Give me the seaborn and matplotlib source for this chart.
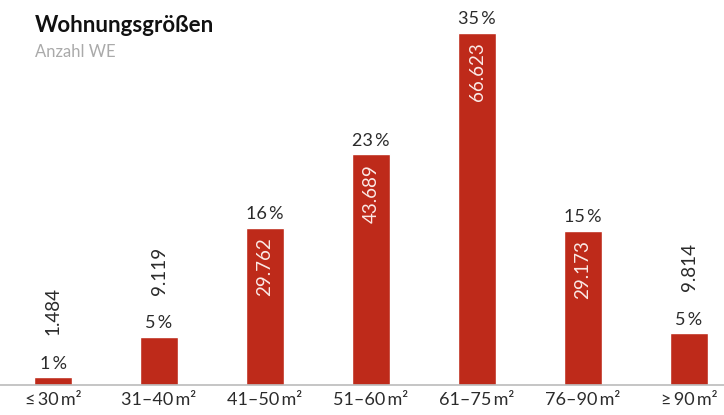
import matplotlib
matplotlib.use("Agg")
import matplotlib.pyplot as plt
import seaborn as sns

# data
categories = ["≤\u200930\u2009m²", "31–40\u2009m²", "41–50\u2009m²", "51–60\u2009m²",
              "61–75\u2009m²", "76–90\u2009m²", "≥\u200990\u2009m²"]
counts = [1484, 9119, 29762, 43689, 66623, 29173, 9814]
shares = [1, 5, 16, 23, 35, 15, 5]

RED = "#BE2A1A"
DARK = "#2B2B2B"

sns.set_theme(style="white")
plt.rcParams["font.family"] = ["Lato", "DejaVu Sans"]

fig = plt.figure(figsize=(7.24, 4.15), dpi=100)
ax = fig.add_axes([0, 30 / 415, 1, 352 / 415])

sns.barplot(x=categories, y=counts, color=RED, saturation=1, width=0.36, ax=ax)

ax.set_xlim(-0.5, 724 / 106 - 0.5)
ax.set_ylim(0, max(counts))
for s in ["top", "right", "left"]:
    ax.spines[s].set_visible(False)
ax.spines["bottom"].set_color("#BBBBBB")
ax.spines["bottom"].set_linewidth(1.2)
ax.set_yticks([])
ax.set_xlabel("")
ax.set_ylabel("")
ax.tick_params(axis="x", length=0, pad=5, labelsize=13, labelcolor=DARK)


def fmt(n):
    return f"{n:,}".replace(",", ".")


for i, (c, p) in enumerate(zip(counts, shares)):
    ax.annotate(f"{p}\u2009%", (i, c), xytext=(0, 4), textcoords="offset points",
                ha="center", va="bottom", fontsize=13, color=DARK, clip_on=False)
    if c > 20000:
        ax.annotate(fmt(c), (i, c), xytext=(0, -7), textcoords="offset points",
                    ha="center", va="top", rotation=90, fontsize=13.5,
                    color="#FBE9E6")
    else:
        ax.annotate(fmt(c), (i, c), xytext=(0, 30), textcoords="offset points",
                    ha="center", va="bottom", rotation=90, fontsize=13.5,
                    color=DARK, clip_on=False)

fig.text(35 / 724, 1 - 25 / 415, "Wohnungsgrößen", fontsize=16, fontweight="bold",
         color="#111111", va="center", ha="left")
fig.text(35 / 724, 1 - 52 / 415, "Anzahl WE", fontsize=12, color="#AAAAAA",
         va="center", ha="left")

fig.savefig("out.png", dpi=100)
